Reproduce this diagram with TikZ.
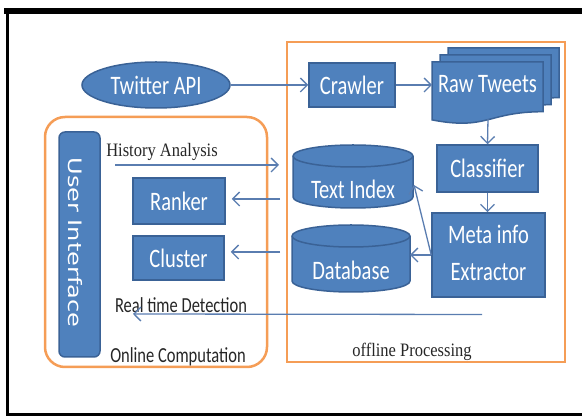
\documentclass[tikz,border=0pt]{standalone}
\usepackage{fontspec}
\usepackage{graphicx}
\setmainfont{Carlito}
\newfontfamily\captionserif{Liberation Serif}
\newfontfamily\panelfont{DejaVu Sans}
\usetikzlibrary{arrows.meta,shapes.geometric}
\definecolor{boxblue}{HTML}{4F81BD}
\definecolor{boxedge}{HTML}{3A6296}
\definecolor{frameorange}{HTML}{F59D56}
\definecolor{flowline}{HTML}{5A7DB0}
\definecolor{labelgray}{HTML}{262626}
% tall, slightly condensed lettering
\newcommand\tallText[1]{\scalebox{1}[1.3]{#1}}
\newcommand\tallSerif[1]{\scalebox{1}[1.15]{#1}}

\begin{document}
\begin{tikzpicture}[x=1pt,y=-1pt,
  blockbox/.style={rectangle, fill=boxblue, draw=boxedge, line width=1.5pt, inner sep=0pt},
  boxlabel/.style={text=white, font=\fontsize{20.5}{28.5}\selectfont, inner sep=0pt},
  drum/.style={fill=boxblue, draw=boxedge, line width=1.5pt},
  flow/.style={draw=flowline, line width=1.3pt, -{Straight Barb[length=7pt,width=14pt]}},
  groupline/.style={draw=frameorange, line width=2.5pt, inner sep=0pt},
  serifnote/.style={text=labelgray, font=\captionserif\fontsize{16.5}{20}\selectfont, inner sep=0pt},
  sansnote/.style={text=labelgray, font=\fontsize{16.5}{20}\selectfont, inner sep=0pt},
  ghost/.style={inner sep=0pt, outer sep=0pt},
]
\useasboundingbox (0,0) rectangle (582,419);

% outer frame
\draw[black, line width=6pt] (4,11.5) -- (582,11.5);
\draw[black, line width=3pt] (7.5,9) -- (7.5,416);
\draw[black, line width=3pt] (6,415) -- (582,415);

% group outlines
\node[groupline, rectangle, minimum width=278pt, minimum height=320pt] (offline) at (426,202) {};
\node[groupline, rectangle, rounded corners=20pt, minimum width=222pt, minimum height=250pt] (online) at (156,242) {};

% source
\node[ellipse, fill=boxblue, draw=boxedge, line width=1.5pt, minimum width=148pt, minimum height=46pt, boxlabel] (twitter) at (156,85) {\tallText{Twitter API}};

% offline processing blocks
\node[blockbox, boxlabel, minimum width=86pt, minimum height=44pt] (crawler) at (352,85) {\tallText{Crawler}};

\foreach \d in {16,8,0} {
  \filldraw[drum, shift={(\d,-\d*7/8)}] (432,62) -- (543,62) -- (543,111.7)
    .. controls (487.5,111.7) and (487.5,130.6) .. (432,119.9) -- cycle;
}
\node[ghost, minimum width=111pt, minimum height=46pt] (raw) at (487.5,85) {};
\node[boxlabel] at (487.5,84) {\tallText{Raw Tweets}};
\coordinate (rawbottom) at (488,119);

\node[blockbox, boxlabel, minimum width=101pt, minimum height=47pt] (classifier) at (487.5,168.5) {\tallText{Classifier}};
\node[blockbox, boxlabel, minimum width=113pt, minimum height=84pt] (meta) at (488.5,255) {\tallText{\begin{tabular}{@{}c@{}}Meta info\\Extractor\end{tabular}}};

% storage drums
\filldraw[drum] (293,156) -- (293,197) arc[start angle=180, end angle=360, x radius=60pt, y radius=11pt]
  -- (413,156) arc[start angle=0, end angle=180, x radius=60pt, y radius=11pt] -- cycle;
\draw[drum, fill=none] (293,156) arc[start angle=180, end angle=360, x radius=60pt, y radius=11pt];
\node[ghost, minimum width=120pt, minimum height=63pt] (textindex) at (353,176.5) {};
\node[boxlabel] at (353,189) {\tallText{Text Index}};

\filldraw[drum] (292,236) -- (292,281) arc[start angle=180, end angle=360, x radius=59pt, y radius=11pt]
  -- (410,236) arc[start angle=0, end angle=180, x radius=59pt, y radius=11pt] -- cycle;
\draw[drum, fill=none] (292,236) arc[start angle=180, end angle=360, x radius=59pt, y radius=11pt];
\node[ghost, minimum width=118pt, minimum height=67pt] (database) at (351,258.5) {};
\node[boxlabel] at (351,270) {\tallText{Database}};

% online computation blocks
\node[blockbox, rounded corners=6pt, minimum width=41pt, minimum height=225pt] (ui) at (79.5,244.5) {};
\node[rotate=-90, text=white, font=\panelfont\fontsize{18.5}{22}\selectfont, inner sep=0pt] at (75.5,242.5) {\scalebox{1.3}[1]{User Interface}};
\node[blockbox, boxlabel, minimum width=92pt, minimum height=46pt] (ranker) at (179,201) {\tallText{Ranker}};
\node[blockbox, boxlabel, minimum width=91pt, minimum height=44pt] (cluster) at (178.5,258) {\tallText{Cluster}};

% labels
\node[serifnote, anchor=base] (histlabel) at (162,157) {\tallSerif{History Analysis}};
\node[sansnote, anchor=base] (rtlabel) at (181,313) {\tallText{Real time Detection}};
\node[sansnote, anchor=base] (onlabel) at (178,363) {\tallText{Online Computation}};
\node[serifnote, anchor=base] (offlabel) at (412,357) {\tallSerif{offline Processing}};

% free connector ends
\coordinate (histStart) at (115,165);
\coordinate (histEnd) at (279,165);
\coordinate (rankFrom) at (280,199);
\coordinate (clusterFrom) at (280,252);
\coordinate (rtStart) at (482,314.5);
\coordinate (rtEnd) at (133,314);
\coordinate (indexIn) at (414,185);

% connectors
\draw[flow] (twitter.east) -- (crawler.west);
\draw[flow] (crawler.east) -- (raw.west);
\draw[flow] (rawbottom) -- (classifier.north);
\draw[flow] (classifier.south) -- (classifier.south |- meta.north);
\draw[flow] (meta.west) -- (meta.west -| database.east);
\draw[flow] (meta.west) -- (indexIn);
\draw[flow] (histStart) -- (histEnd);
\draw[flow, shorten >=6pt] (rankFrom) -- (rankFrom -| ranker.east);
\draw[flow, shorten >=6pt] (clusterFrom) -- (clusterFrom -| cluster.east);
\draw[flow] (rtStart) -- (rtEnd);
\end{tikzpicture}
\end{document}
